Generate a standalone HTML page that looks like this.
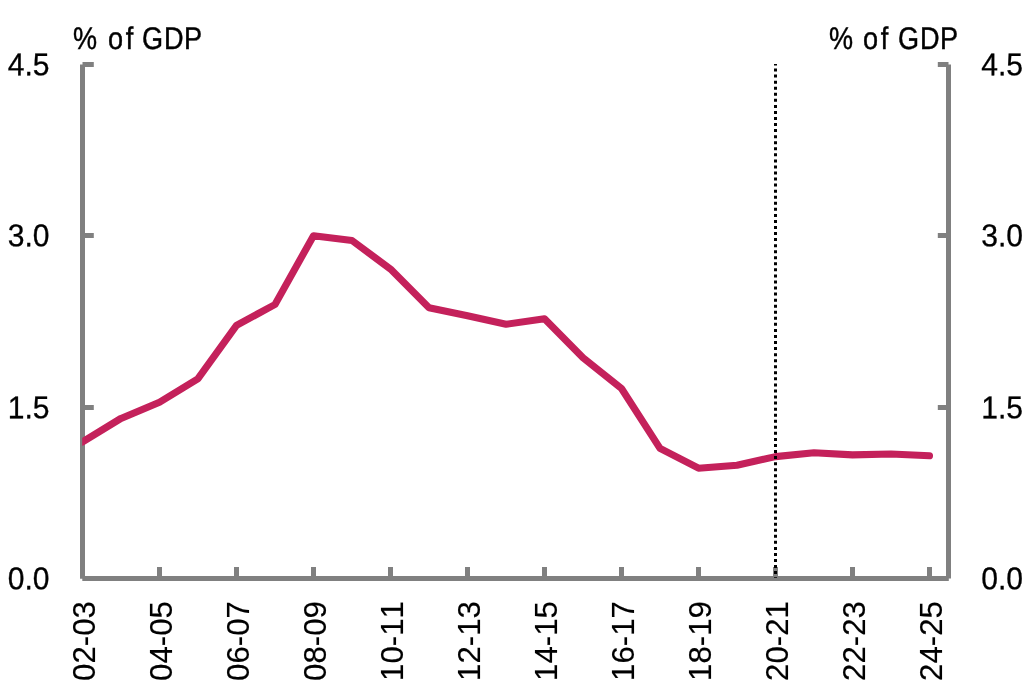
<!DOCTYPE html>
<html lang="en">
<head>
<meta charset="utf-8">
<title>% of GDP chart</title>
<style>
html, body { margin: 0; padding: 0; background: #ffffff; }
body { width: 1031px; height: 687px; overflow: hidden; }
svg { display: block; }
text { font-family: "Liberation Sans", sans-serif; fill: #000000; stroke: #000000; stroke-width: 0.15px; font-kerning: none; }
.yl { font-size: 31.5px; stroke-width: 0.3px; }
.ttl { font-size: 31.3px; stroke-width: 0.45px; }
.xl { font-size: 32.1px; }
</style>
</head>
<body>
<svg width="1031" height="687" viewBox="0 0 1031 687">
<rect x="0" y="0" width="1031" height="687" fill="#ffffff"/>
<g stroke="#808080" stroke-width="5" fill="none" stroke-linecap="butt">
<line x1="82.5" y1="64.5" x2="82.5" y2="578.7"/>
<line x1="948.5" y1="64.5" x2="948.5" y2="578.4"/>
<line x1="82.3" y1="578.5" x2="948.8" y2="578.5"/>
<line x1="82.5" y1="64.5" x2="93.8" y2="64.5"/>
<line x1="937.8" y1="64.5" x2="948.5" y2="64.5"/>
<line x1="82.5" y1="235.5" x2="93.8" y2="235.5"/>
<line x1="937.8" y1="235.5" x2="948.5" y2="235.5"/>
<line x1="82.5" y1="407.5" x2="93.8" y2="407.5"/>
<line x1="937.8" y1="407.5" x2="948.5" y2="407.5"/>
<line x1="159.5" y1="567" x2="159.5" y2="578.5"/>
<line x1="236.5" y1="567" x2="236.5" y2="578.5"/>
<line x1="313.5" y1="567" x2="313.5" y2="578.5"/>
<line x1="390.5" y1="567" x2="390.5" y2="578.5"/>
<line x1="467.5" y1="567" x2="467.5" y2="578.5"/>
<line x1="544.5" y1="567" x2="544.5" y2="578.5"/>
<line x1="621.5" y1="567" x2="621.5" y2="578.5"/>
<line x1="698.5" y1="567" x2="698.5" y2="578.5"/>
<line x1="775.5" y1="567" x2="775.5" y2="578.5"/>
<line x1="852.5" y1="567" x2="852.5" y2="578.5"/>
<line x1="929.5" y1="567" x2="929.5" y2="578.5"/>
</g>
<clipPath id="plotclip"><rect x="82.2" y="0" width="900" height="687"/></clipPath>
<polyline clip-path="url(#plotclip)" points="82.5,441.9 121.0,418.4 159.5,402.2 198.0,378.7 236.5,325.4 275.0,304.5 313.5,235.7 352.0,240.5 390.5,269.1 429.0,307.7 467.5,315.8 506.0,324.3 544.5,318.7 583.0,357.7 621.5,388.5 660.0,448.3 698.5,468.2 737.0,465.2 775.5,456.6 814.0,452.8 852.5,454.9 891.0,454.0 929.5,455.8" fill="none" stroke="#c4215b" stroke-width="7.1" stroke-linejoin="round" stroke-linecap="round"/>
<line x1="775.5" y1="64" x2="775.5" y2="577.9" stroke="#000000" stroke-width="3" stroke-dasharray="3 3.055" stroke-dashoffset="1.5"/>
<text class="yl" transform="translate(49.5,75.25) rotate(0.03) scale(0.955,1)" text-anchor="end">4.5</text>
<text class="yl" transform="translate(981.2,75.25) rotate(0.03) scale(0.955,1)" text-anchor="start">4.5</text>
<text class="yl" transform="translate(49.5,246.25) rotate(0.03) scale(0.955,1)" text-anchor="end">3.0</text>
<text class="yl" transform="translate(981.2,246.25) rotate(0.03) scale(0.955,1)" text-anchor="start">3.0</text>
<text class="yl" transform="translate(49.5,418.25) rotate(0.03) scale(0.955,1)" text-anchor="end">1.5</text>
<text class="yl" transform="translate(981.2,418.25) rotate(0.03) scale(0.955,1)" text-anchor="start">1.5</text>
<text class="yl" transform="translate(49.5,589.25) rotate(0.03) scale(0.955,1)" text-anchor="end">0.0</text>
<text class="yl" transform="translate(981.2,589.25) rotate(0.03) scale(0.955,1)" text-anchor="start">0.0</text>
<text class="ttl" transform="translate(73.0,48.5) rotate(0.03) scale(0.865,1)" dx="0 0 3.8 3.3 0 1.2 1.1 0.75">% of GDP</text>
<text class="ttl" transform="translate(829.0,48.5) rotate(0.03) scale(0.865,1)" dx="0 0 2.65 3.3 0 2.35 1.1 0.75">% of GDP</text>
<text class="xl" transform="translate(94.9,601.1) rotate(-90) scale(0.972,1)" text-anchor="end">02-03</text>
<text class="xl" transform="translate(171.9,601.1) rotate(-90) scale(0.972,1)" text-anchor="end">04-05</text>
<text class="xl" transform="translate(248.9,601.1) rotate(-90) scale(0.972,1)" text-anchor="end">06-07</text>
<text class="xl" transform="translate(325.9,601.1) rotate(-90) scale(0.972,1)" text-anchor="end">08-09</text>
<text class="xl" transform="translate(402.9,601.1) rotate(-90) scale(0.972,1)" text-anchor="end">10-11</text>
<text class="xl" transform="translate(479.9,601.1) rotate(-90) scale(0.972,1)" text-anchor="end">12-13</text>
<text class="xl" transform="translate(556.9,601.1) rotate(-90) scale(0.972,1)" text-anchor="end">14-15</text>
<text class="xl" transform="translate(633.9,601.1) rotate(-90) scale(0.972,1)" text-anchor="end">16-17</text>
<text class="xl" transform="translate(710.9,601.1) rotate(-90) scale(0.972,1)" text-anchor="end">18-19</text>
<text class="xl" transform="translate(787.9,601.1) rotate(-90) scale(0.972,1)" text-anchor="end">20-21</text>
<text class="xl" transform="translate(864.9,601.1) rotate(-90) scale(0.972,1)" text-anchor="end">22-23</text>
<text class="xl" transform="translate(941.9,601.1) rotate(-90) scale(0.972,1)" text-anchor="end">24-25</text>
</svg>
</body>
</html>
